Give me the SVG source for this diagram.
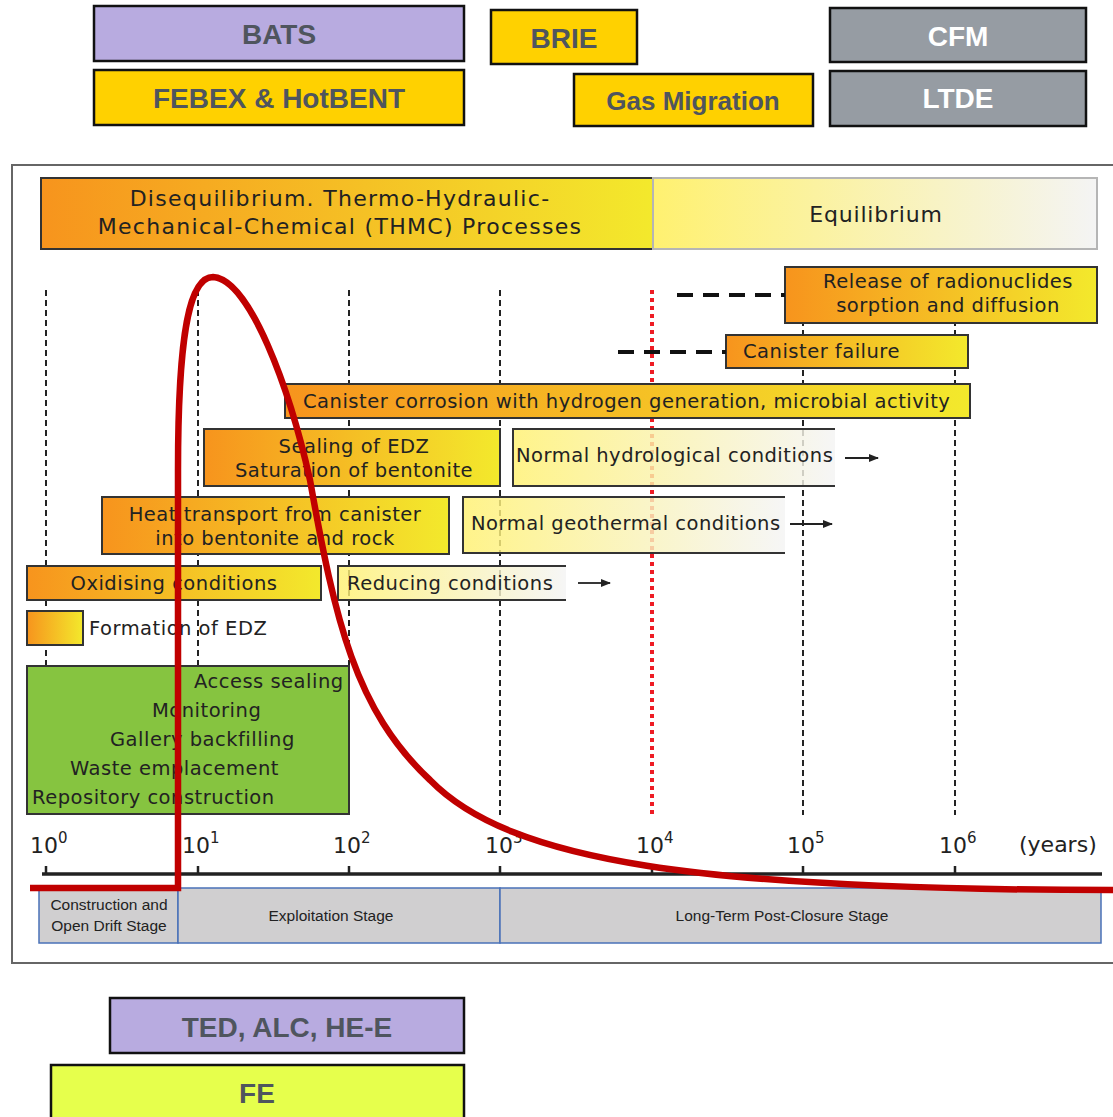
<svg xmlns="http://www.w3.org/2000/svg" width="1113" height="1117" viewBox="0 0 1113 1117">
<defs>
<linearGradient id="oy" x1="0" y1="0" x2="1" y2="0"><stop offset="0" stop-color="#f7941d"/><stop offset="1" stop-color="#f3e92c"/></linearGradient>
<linearGradient id="yw" x1="0" y1="0" x2="1" y2="0"><stop offset="0" stop-color="#fff170"/><stop offset="1" stop-color="#f4f4f4"/></linearGradient>
<marker id="ah" viewBox="0 0 10 10" refX="9" refY="5" markerWidth="10" markerHeight="10" markerUnits="userSpaceOnUse" orient="auto"><path d="M0 1 L10 5 L0 9 Z" fill="#222"/></marker>
<style>
.tb{font-family:"Liberation Sans",Arial,sans-serif;font-weight:bold;font-size:28px;fill:#4f555e;text-anchor:middle}
.tw{fill:#ffffff}
.bx{stroke:#111;stroke-width:2.5}
.ch{font-family:"DejaVu Sans","Liberation Sans",sans-serif;font-size:19.5px;letter-spacing:0.5px;fill:#222}
.big{font-size:22px;letter-spacing:1.3px}
.mid{text-anchor:middle}
.ob{fill:url(#oy);stroke:#333;stroke-width:2}
.yb{fill:url(#yw);fill-opacity:0.82}
.yl{fill:none;stroke:#333;stroke-width:2}
.vd{stroke:#222;stroke-width:2;stroke-dasharray:6 4;fill:none}
.hd{stroke:#111;stroke-width:4;stroke-dasharray:16 10;fill:none}
.ar{stroke:#222;stroke-width:1.8;fill:none;marker-end:url(#ah)}
.st{font-family:"Liberation Sans",Arial,sans-serif;font-size:15.5px;fill:#222;text-anchor:middle}
.ax{font-family:"DejaVu Sans","Liberation Sans",sans-serif;font-size:22px;fill:#222}
.sup{font-size:15px}
</style>
</defs>
<rect width="1113" height="1117" fill="#ffffff"/>

<g id="bats"><rect class="bx" x="94" y="6" width="370" height="55" fill="#b8abe0"/><text class="tb" x="279" y="44">BATS</text></g>
<g id="febex"><rect class="bx" x="94" y="70" width="370" height="55" fill="#ffd100"/><text class="tb" x="279" y="108">FEBEX &amp; HotBENT</text></g>
<g id="brie"><rect class="bx" x="491" y="10" width="146" height="54" fill="#ffd100"/><text class="tb" x="564" y="48">BRIE</text></g>
<g id="gas"><rect class="bx" x="574" y="74" width="239" height="52" fill="#ffd100"/><text class="tb" x="693" y="110" style="font-size:26px">Gas Migration</text></g>
<g id="cfm"><rect class="bx" x="830" y="8" width="256" height="54" fill="#969ca3"/><text class="tb tw" x="958" y="46">CFM</text></g>
<g id="ltde"><rect class="bx" x="830" y="71" width="256" height="55" fill="#969ca3"/><text class="tb tw" x="958" y="108">LTDE</text></g>
<g id="ted"><rect class="bx" x="110" y="998" width="354" height="55" fill="#b8abe0"/><text class="tb" x="287" y="1037">TED, ALC, HE-E</text></g>
<g id="fe"><rect class="bx" x="51" y="1065" width="413" height="60" fill="#e6ff4c"/><text class="tb" x="257" y="1103">FE</text></g>

<g id="chart">
<rect x="12" y="165" width="1110" height="798" fill="#ffffff" stroke="#666" stroke-width="2"/>
<g id="grid">
<line class="vd" x1="46" y1="290" x2="46" y2="815"/>
<line class="vd" x1="198" y1="290" x2="198" y2="815"/>
<line class="vd" x1="349" y1="290" x2="349" y2="815"/>
<line class="vd" x1="500" y1="290" x2="500" y2="815"/>
<line class="vd" x1="803" y1="290" x2="803" y2="815"/>
<line class="vd" x1="955" y1="290" x2="955" y2="815"/>
<line x1="652" y1="290" x2="652" y2="815" stroke="#ee1c24" stroke-width="4" stroke-dasharray="4 4"/>
</g>

<g id="diseq"><rect x="41" y="178" width="612" height="71" fill="url(#oy)" stroke="#333" stroke-width="2"/>
<text class="ch mid big" x="340" y="206">Disequilibrium. Thermo-Hydraulic-</text>
<text class="ch mid big" x="340" y="234">Mechanical-Chemical (THMC) Processes</text></g>
<g id="equil"><rect x="653" y="178" width="444" height="71" fill="url(#yw)" stroke="#b5b5b5" stroke-width="2"/>
<text class="ch mid" x="876" y="222" style="font-size:22px;letter-spacing:0.8px">Equilibrium</text></g>

<g id="release"><rect class="ob" x="785" y="267" width="312" height="56"/>
<text class="ch mid" x="948" y="288">Release of radionuclides</text>
<text class="ch mid" x="948" y="312">sorption and diffusion</text></g>
<g id="failure"><rect class="ob" x="726" y="335" width="242" height="33"/>
<text class="ch" x="743" y="358">Canister failure</text></g>
<g id="corrosion"><rect class="ob" x="285" y="384" width="685" height="34"/>
<text class="ch" x="303" y="408">Canister corrosion with hydrogen generation, microbial activity</text></g>
<g id="sealing"><rect class="ob" x="204" y="429" width="296" height="57"/>
<text class="ch mid" x="354" y="453">Sealing of EDZ</text>
<text class="ch mid" x="354" y="477">Saturation of bentonite</text></g>
<g id="hydro"><rect class="yb" x="513" y="429" width="322" height="57"/><path class="yl" d="M835 429 H513 V486 H835"/>
<text class="ch" x="516" y="462">Normal hydrological conditions</text></g>
<g id="heat"><rect class="ob" x="102" y="497" width="347" height="57"/>
<text class="ch mid" x="275" y="521">Heat transport from canister</text>
<text class="ch mid" x="275" y="545">into bentonite and rock</text></g>
<g id="geo"><rect class="yb" x="463" y="497" width="322" height="56"/><path class="yl" d="M785 497 H463 V553 H785"/>
<text class="ch" x="471" y="530">Normal geothermal conditions</text></g>
<g id="oxid"><rect class="ob" x="27" y="566" width="294" height="34"/>
<text class="ch mid" x="174" y="590">Oxidising conditions</text></g>
<g id="reduc"><rect class="yb" x="338" y="566" width="228" height="34"/><path class="yl" d="M566 566 H338 V600 H566"/>
<text class="ch" x="347" y="590">Reducing conditions</text></g>
<g id="edz"><rect class="ob" x="27" y="611" width="56" height="34"/>
<text class="ch" x="89" y="635">Formation of EDZ</text></g>
<g id="ops"><rect x="27" y="666" width="322" height="148" fill="#86c440" stroke="#333" stroke-width="2"/>
<text class="ch" x="194" y="688">Access sealing</text>
<text class="ch" x="152" y="717">Monitoring</text>
<text class="ch" x="110" y="746">Gallery backfilling</text>
<text class="ch" x="70" y="775">Waste emplacement</text>
<text class="ch" x="32" y="804">Repository construction</text></g>

<g id="connectors">
<line class="hd" x1="677" y1="295" x2="785" y2="295"/>
<line class="hd" x1="618" y1="352" x2="726" y2="352"/>
<line class="ar" x1="845" y1="458" x2="878" y2="458"/>
<line class="ar" x1="790" y1="524" x2="832" y2="524"/>
<line class="ar" x1="578" y1="583" x2="610" y2="583"/>
</g>

<g id="axis">
<line x1="42" y1="874" x2="1102" y2="874" stroke="#222" stroke-width="3.5"/>
<path d="M46 866 V874 M198 866 V874 M349 866 V874 M500 866 V874 M652 866 V874 M803 866 V874 M955 866 V874" stroke="#222" stroke-width="2.5"/>
<text class="ax" x="30" y="853">10<tspan class="sup" dy="-10">0</tspan></text>
<text class="ax" x="182" y="853">10<tspan class="sup" dy="-10">1</tspan></text>
<text class="ax" x="333" y="853">10<tspan class="sup" dy="-10">2</tspan></text>
<text class="ax" x="485" y="853">10<tspan class="sup" dy="-10">3</tspan></text>
<text class="ax" x="636" y="853">10<tspan class="sup" dy="-10">4</tspan></text>
<text class="ax" x="787" y="853">10<tspan class="sup" dy="-10">5</tspan></text>
<text class="ax" x="939" y="853">10<tspan class="sup" dy="-10">6</tspan></text>
<text class="ax" x="1019" y="852">(years)</text>
</g>

<g id="stages">
<rect x="39" y="888" width="139" height="55" fill="#d0cfd0" stroke="#4a72b8" stroke-width="1.5"/>
<rect x="178" y="888" width="322" height="55" fill="#d0cfd0" stroke="#4a72b8" stroke-width="1.5"/>
<rect x="500" y="888" width="601" height="55" fill="#d0cfd0" stroke="#4a72b8" stroke-width="1.5"/>
<text class="st" x="109" y="910">Construction and</text>
<text class="st" x="109" y="931">Open Drift Stage</text>
<text class="st" x="331" y="921">Exploitation Stage</text>
<text class="st" x="782" y="921">Long-Term Post-Closure Stage</text>
</g>

<path id="curve" d="M30 888 L178 888 L178 470 C178 330 190 277 213 277 C250 279 290 390 310 480 C335 620 355 710 430 780 C510 862 700 890 1113 890" fill="none" stroke="#c00000" stroke-width="6.5" stroke-linejoin="miter"/>
</g>
</svg>
